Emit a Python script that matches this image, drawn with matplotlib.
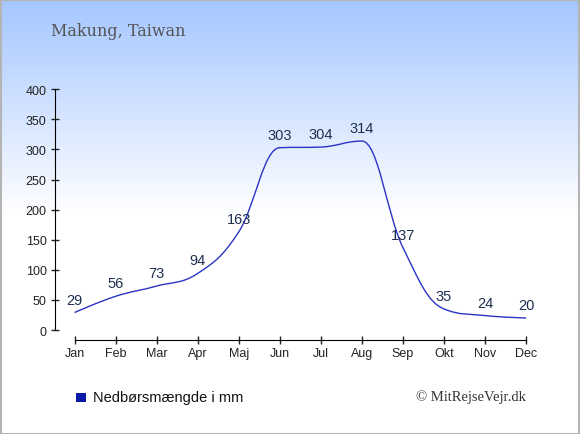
import numpy as np
import matplotlib
matplotlib.use("Agg")
import matplotlib.pyplot as plt
from matplotlib.path import Path
from matplotlib.patches import PathPatch, Rectangle

months = ["Jan", "Feb", "Mar", "Apr", "Maj", "Jun", "Jul", "Aug", "Sep", "Okt", "Nov", "Dec"]
rain = [29, 56, 73, 94, 163, 303, 304, 314, 137, 35, 24, 20]
title = "Makung, Taiwan"
legend_label = "Nedbørsmængde i mm"
credit = "\u00a9 MitRejseVejr.dk"

line_color = "#2a34c4"
label_color = "#1f2f50"


def spline_path(xs, ys, smoothing=1.5):
    # same idea as a highcharts spline: bezier control points per point
    n = len(xs)
    left = [(xs[i], ys[i]) for i in range(n)]
    right = [(xs[i], ys[i]) for i in range(n)]
    den = smoothing + 1
    for i in range(1, n - 1):
        lx, ly = xs[i - 1], ys[i - 1]
        px, py = xs[i], ys[i]
        nx, ny = xs[i + 1], ys[i + 1]
        lcx = (smoothing * px + lx) / den
        lcy = (smoothing * py + ly) / den
        rcx = (smoothing * px + nx) / den
        rcy = (smoothing * py + ny) / den
        corr = 0
        if rcx != lcx:
            corr = (rcy - lcy) * (rcx - px) / (rcx - lcx) + py - rcy
        lcy += corr
        rcy += corr
        if lcy > ly and lcy > py:
            lcy = max(ly, py)
            rcy = 2 * py - lcy
        elif lcy < ly and lcy < py:
            lcy = min(ly, py)
            rcy = 2 * py - lcy
        if rcy > ny and rcy > py:
            rcy = max(ny, py)
            lcy = 2 * py - rcy
        elif rcy < ny and rcy < py:
            rcy = min(ny, py)
            lcy = 2 * py - rcy
        left[i] = (lcx, lcy)
        right[i] = (rcx, rcy)
    verts = [(xs[0], ys[0])]
    codes = [Path.MOVETO]
    for i in range(1, n):
        verts += [right[i - 1], left[i], (xs[i], ys[i])]
        codes += [Path.CURVE4] * 3
    return Path(verts, codes)


fig = plt.figure(figsize=(5.8, 4.35), dpi=100)

# background gradient
bg = fig.add_axes([0, 0, 1, 1], zorder=-5)
h = 435
t = np.clip(np.arange(h) / 215.0, 0, 1)
top = np.array([164, 198, 255]) / 255.0
grad = top[None, :] * (1 - t[:, None]) + np.ones(3)[None, :] * t[:, None]
bg.imshow(grad[:, None, :], aspect="auto", extent=[0, 1, 0, 1])
bg.set_axis_off()
fig.patches.append(Rectangle((0.001, 0.001), 0.997, 0.997, transform=fig.transFigure,
                             fill=False, edgecolor="#b4b4b4", lw=1.5))

ax = fig.add_axes([55 / 580, 1 - 341 / 435, 490 / 580, 251 / 435])
ax.patch.set_alpha(0)
x = np.arange(len(months))
ax.add_patch(PathPatch(spline_path(list(x), rain), fill=False, edgecolor=line_color, lw=1.0))
for xi, v in zip(x, rain):
    ax.annotate(str(v), (xi, v), xytext=(0, 13), textcoords="offset pixels",
                ha="center", va="center", fontsize=10.5, color=label_color,
                family="Liberation Sans")

ax.set_xlim(-0.475, 11.46)
ax.set_ylim(-16.6, 400.5)
ax.set_xticks(x)
ax.set_xticklabels(months)
ax.set_yticks(range(0, 401, 50))
for s in ["top", "right"]:
    ax.spines[s].set_visible(False)
ax.spines["left"].set_bounds(0, 400)
ax.spines["bottom"].set_bounds(0, 11)
ax.tick_params(direction="inout", length=6, width=1, labelsize=9, colors="#222222")
ax.tick_params(axis="y", pad=3)
ax.tick_params(axis="x", pad=2)
for lab in ax.get_xticklabels() + ax.get_yticklabels():
    lab.set_family("Liberation Sans")

fig.text(51 / 580, 1 - 32 / 435, title, family="DejaVu Serif", fontsize=11.5,
         color="#555555", va="center", ha="left")

fig.patches.append(Rectangle((76 / 580, 1 - 403 / 435), 10 / 580, 9.5 / 435,
                             transform=fig.transFigure, facecolor="#0a1aa8", edgecolor="none"))
fig.text(93 / 580, 1 - 398 / 435, legend_label, family="Liberation Sans", fontsize=10.5,
         color="#111111", va="center", ha="left")
fig.text(526 / 580, 1 - 397 / 435, credit, family="Liberation Serif", fontsize=10.5,
         color="#333333", va="center", ha="right")

fig.savefig("out.png", dpi=100)
